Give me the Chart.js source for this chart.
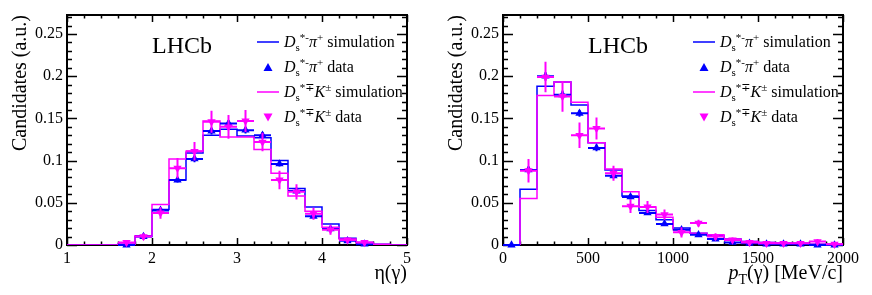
<!DOCTYPE html>
<html>
<head>
<meta charset="utf-8">
<script src="https://cdn.jsdelivr.net/npm/chart.js@4.4.1/dist/chart.umd.min.js"></script>
<style>
html,body{margin:0;padding:0;background:#fff;}
body{width:872px;height:295px;overflow:hidden;position:relative;font-family:"Liberation Serif","Times New Roman","DejaVu Serif",serif;color:#000;}
.panel{position:absolute;top:0;width:436px;height:295px;}
.panel canvas{position:absolute;left:0;top:0;}
.t{position:absolute;white-space:nowrap;}
.leg{font-size:16px;line-height:16px;}
.lhcb{font-size:24px;line-height:24px;}
.xt{font-size:20px;line-height:20px;text-align:right;}
.sb{font-size:11px;position:relative;top:4px;}
.sp{font-size:11px;position:relative;top:-6px;}
.sbT{font-size:14px;position:relative;top:5px;}
</style>
</head>
<body>
<div class="panel" id="pL" style="left:0px;">
  <canvas id="cL" width="436" height="295"></canvas>
  <div class="t lhcb" style="left:152px;top:33px;">LHCb</div>
  <div class="t leg" style="left:284px;top:34px;"><i>D</i><span class="sb">s</span><span class="sp">*-</span><i>π</i><span class="sp">+</span> simulation</div>
  <div class="t leg" style="left:284px;top:59px;"><i>D</i><span class="sb">s</span><span class="sp">*-</span><i>π</i><span class="sp">+</span> data</div>
  <div class="t leg" style="left:284px;top:84px;"><i>D</i><span class="sb">s</span><span class="sp">*∓</span><i>K</i><span class="sp">±</span> simulation</div>
  <div class="t leg" style="left:284px;top:109px;"><i>D</i><span class="sb">s</span><span class="sp">*∓</span><i>K</i><span class="sp">±</span> data</div>
  <div class="t xt" style="right:29px;top:262px;">η(γ)</div>
</div>
<div class="panel" id="pR" style="left:436px;">
  <canvas id="cR" width="436" height="295"></canvas>
  <div class="t lhcb" style="left:152px;top:33px;">LHCb</div>
  <div class="t leg" style="left:284px;top:34px;"><i>D</i><span class="sb">s</span><span class="sp">*-</span><i>π</i><span class="sp">+</span> simulation</div>
  <div class="t leg" style="left:284px;top:59px;"><i>D</i><span class="sb">s</span><span class="sp">*-</span><i>π</i><span class="sp">+</span> data</div>
  <div class="t leg" style="left:284px;top:84px;"><i>D</i><span class="sb">s</span><span class="sp">*∓</span><i>K</i><span class="sp">±</span> simulation</div>
  <div class="t leg" style="left:284px;top:109px;"><i>D</i><span class="sb">s</span><span class="sp">*∓</span><i>K</i><span class="sp">±</span> data</div>
  <div class="t xt" style="right:29px;top:262px;"><i>p</i><span class="sbT">T</span>(γ) [MeV/c]</div>
</div>
<script>
// ---------------- data ----------------
const etaEdges = [1.0,1.2,1.4,1.6,1.8,2.0,2.2,2.4,2.6,2.8,3.0,3.2,3.4,3.6,3.8,4.0,4.2,4.4,4.6,4.8,5.0];
const etaSimPi = [0,0,0,0.001,0.010,0.042,0.077,0.109,0.130,0.137,0.129,0.127,0.100,0.067,0.045,0.025,0.008,0.003,0.001,0];
const etaSimK  = [0,0,0,0.001,0.011,0.048,0.102,0.111,0.147,0.128,0.128,0.113,0.085,0.058,0.040,0.021,0.007,0.003,0.001,0];
const etaDataX = [1.7,1.9,2.1,2.3,2.5,2.7,2.9,3.1,3.3,3.5,3.7,3.9,4.1,4.3,4.5];
const etaDataPi = [0.000,0.010,0.041,0.077,0.102,0.135,0.144,0.136,0.130,0.096,0.064,0.034,0.019,0.005,0.001];
const etaErrPi  = [0.001,0.002,0.003,0.003,0.004,0.004,0.004,0.004,0.004,0.003,0.003,0.002,0.002,0.001,0.001];
const etaDataK  = [0.003,0.010,0.038,0.091,0.111,0.146,0.140,0.147,0.122,0.077,0.063,0.037,0.018,0.006,0.003];
const etaErrK   = [0.003,0.004,0.007,0.012,0.011,0.013,0.014,0.013,0.011,0.011,0.009,0.007,0.006,0.003,0.002];
const etaTicks = [1,2,3,4,5];
const etaTickLabels = ['1','2','3','4','5'];

const ptEdges = [0,100,200,300,400,500,600,700,800,900,1000,1100,1200,1300,1400,1500,1600,1700,1800,1900,2000];
const ptSimPi = [0,0.066,0.188,0.193,0.166,0.121,0.089,0.058,0.041,0.030,0.020,0.014,0.011,0.007,0.004,0.003,0.002,0.002,0.001,0.001];
const ptSimK  = [0,0.055,0.177,0.193,0.169,0.121,0.090,0.063,0.045,0.033,0.018,0.014,0.012,0.007,0.004,0.003,0.002,0.002,0.001,0.001];
const ptDataX = [50,150,250,350,450,550,650,750,850,950,1050,1150,1250,1350,1450,1550,1650,1750,1850,1950];
const ptDataPi = [0.000,0.089,0.200,0.178,0.156,0.115,0.082,0.057,0.038,0.025,0.018,0.012,0.007,0.003,0.002,0.001,0.001,0.001,0.000,0.000];
const ptErrPi  = [0.001,0.004,0.005,0.005,0.004,0.004,0.003,0.003,0.002,0.002,0.002,0.002,0.001,0.001,0.001,0.001,0.001,0.001,0.001,0.001];
const ptDataK  = [null,0.088,0.199,0.176,0.130,0.138,0.085,0.046,0.045,0.036,0.015,0.026,0.010,0.006,0.003,0.002,0.002,0.002,0.004,0.001];
const ptErrK   = [null,0.014,0.018,0.018,0.015,0.013,0.009,0.008,0.007,0.006,0.006,0.004,0.004,0.003,0.002,0.002,0.002,0.002,0.003,0.002];
const ptTicks = [0,500,1000,1500,2000];
const ptTickLabels = ['0','500','1000','1500','2000'];

const yTicks = [0,0.05,0.1,0.15,0.2,0.25];
const yTickLabels = ['0','0.05','0.1','0.15','0.2','0.25'];
const yMax = 0.2725;

// ---------------- styles ----------------
const BLUE = '#0000ff';
const MAG = '#ff00ff';
const FONT = "'Liberation Serif', 'Times New Roman', 'DejaVu Serif', serif";

function stepPoints(edges, vals){
  const p = [];
  for (let i = 0; i < vals.length; i++) p.push({x: edges[i], y: vals[i]});
  p.push({x: edges[edges.length-1], y: vals[vals.length-1]});
  return p;
}
function dataPoints(xs, ys, es, halfW){
  const p = [];
  for (let i = 0; i < xs.length; i++) {
    if (ys[i] === null) continue;
    p.push({x: xs[i], y: ys[i], ey: es[i], ex: halfW});
  }
  return p;
}

const errorBarPlugin = {
  id: 'errbars',
  beforeDatasetDraw(chart, args){
    const ds = chart.data.datasets[args.index];
    if (!ds.errBars) return;
    const xs = chart.scales.x, ys = chart.scales.y, ctx = chart.ctx;
    ctx.save();
    ctx.strokeStyle = ds.backgroundColor;
    ctx.lineWidth = 2;
    ds.data.forEach(p => {
      const px = xs.getPixelForValue(p.x), py = ys.getPixelForValue(p.y);
      ctx.beginPath();
      ctx.moveTo(xs.getPixelForValue(p.x - p.ex), py);
      ctx.lineTo(xs.getPixelForValue(p.x + p.ex), py);
      ctx.moveTo(px, ys.getPixelForValue(Math.max(0, p.y - p.ey)));
      ctx.lineTo(px, ys.getPixelForValue(p.y + p.ey));
      ctx.stroke();
    });
    ctx.restore();
  }
};

const framePlugin = {
  id: 'frame',
  beforeDatasetsDraw(chart){
    const o = chart.options.plugins.frame;
    const a = chart.chartArea, ctx = chart.ctx;
    const xs = chart.scales.x, ys = chart.scales.y;
    ctx.save();
    ctx.strokeStyle = '#000';
    ctx.lineWidth = 1.5;
    ctx.beginPath();
    const nY = Math.round(yMax / 0.01);
    for (let k = 0; k <= nY; k++) {
      const py = Math.round(ys.getPixelForValue(k * 0.01)) + 0.5;
      const len = (k % 5 === 0) ? 10 : 5;
      ctx.moveTo(a.left, py); ctx.lineTo(a.left + len, py);
      ctx.moveTo(a.right, py); ctx.lineTo(a.right - len, py);
    }
    const nX = Math.round((o.xMax - o.xMin) / o.minor);
    for (let k = 0; k <= nX; k++) {
      const v = o.xMin + k * o.minor;
      const px = Math.round(xs.getPixelForValue(v)) + 0.5;
      const len = (k % o.per === 0) ? 7 : 3.5;
      ctx.moveTo(px, a.bottom); ctx.lineTo(px, a.bottom - len);
      ctx.moveTo(px, a.top); ctx.lineTo(px, a.top + len);
    }
    ctx.stroke();
    ctx.lineWidth = 2;
    ctx.strokeRect(a.left, a.top, a.right - a.left, a.bottom - a.top);
    ctx.restore();
  },
  afterDraw(chart){
    const ctx = chart.ctx;
    ctx.save();
    ctx.lineWidth = 1.5;
    ctx.strokeStyle = BLUE;
    ctx.beginPath(); ctx.moveTo(257, 42); ctx.lineTo(279, 42); ctx.stroke();
    ctx.strokeStyle = MAG;
    ctx.beginPath(); ctx.moveTo(257, 92); ctx.lineTo(279, 92); ctx.stroke();
    ctx.fillStyle = BLUE;
    ctx.beginPath(); ctx.moveTo(268, 63); ctx.lineTo(272.5, 71); ctx.lineTo(263.5, 71); ctx.closePath(); ctx.fill();
    ctx.fillStyle = MAG;
    ctx.beginPath(); ctx.moveTo(268, 121.5); ctx.lineTo(272.5, 113.5); ctx.lineTo(263.5, 113.5); ctx.closePath(); ctx.fill();
    ctx.restore();
  }
};

function makeChart(id, edges, simPi, simK, dX, dPi, ePi, dK, eK, xMin, xMax, ticks, tickLabels, minor, per){
  const halfW = (edges[1] - edges[0]) / 2;
  return new Chart(document.getElementById(id), {
    type: 'line',
    data: {
      datasets: [
        {type:'line', data: stepPoints(edges, simPi), stepped: true, borderColor: BLUE, borderWidth: 1.5, pointRadius: 0, fill: false, order: 3},
        {type:'line', data: stepPoints(edges, simK), stepped: true, borderColor: MAG, borderWidth: 1.5, pointRadius: 0, fill: false, order: 2},
        {type:'scatter', data: dataPoints(dX, dPi, ePi, halfW), errBars: true, backgroundColor: BLUE, borderColor: BLUE, borderWidth: 0,
          pointStyle: 'triangle', pointRadius: 4.8, pointRotation: 0, showLine: false, clip: false, order: 1},
        {type:'scatter', data: dataPoints(dX, dK, eK, halfW), errBars: true, backgroundColor: MAG, borderColor: MAG, borderWidth: 0,
          pointStyle: 'triangle', pointRadius: 4.8, pointRotation: 180, showLine: false, clip: false, order: 0}
      ]
    },
    options: {
      responsive: false,
      animation: false,
      devicePixelRatio: 1,
      layout: {padding: {left: 0, right: 29, top: 15, bottom: 0}},
      plugins: {
        legend: {display: false},
        tooltip: {enabled: false},
        frame: {xMin: xMin, xMax: xMax, minor: minor, per: per}
      },
      scales: {
        x: {
          type: 'linear', min: xMin, max: xMax,
          grid: {display: false, drawTicks: false},
          border: {display: false},
          afterBuildTicks: s => { s.ticks = ticks.map(v => ({value: v})); },
          afterFit: s => { s.height = 50; },
          ticks: {color: '#000', font: {family: FONT, size: 16}, padding: 4, maxRotation: 0, autoSkip: false,
            callback: (v, i) => tickLabels[i]}
        },
        y: {
          type: 'linear', min: 0, max: yMax,
          grid: {display: false, drawTicks: false},
          border: {display: false},
          afterBuildTicks: s => { s.ticks = yTicks.map(v => ({value: v})); },
          afterFit: s => { s.width = 67; },
          ticks: {color: '#000', font: {family: FONT, size: 16}, padding: 4, autoSkip: false,
            callback: (v, i) => yTickLabels[i]},
          title: {display: true, text: 'Candidates (a.u.)', align: 'end', color: '#000',
            font: {family: FONT, size: 20}, padding: {top: 9, bottom: 0}}
        }
      }
    },
    plugins: [framePlugin, errorBarPlugin]
  });
}

makeChart('cL', etaEdges, etaSimPi, etaSimK, etaDataX, etaDataPi, etaErrPi, etaDataK, etaErrK, 1, 5, etaTicks, etaTickLabels, 0.2, 5);
makeChart('cR', ptEdges, ptSimPi, ptSimK, ptDataX, ptDataPi, ptErrPi, ptDataK, ptErrK, 0, 2000, ptTicks, ptTickLabels, 100, 5);
</script>
</body>
</html>
